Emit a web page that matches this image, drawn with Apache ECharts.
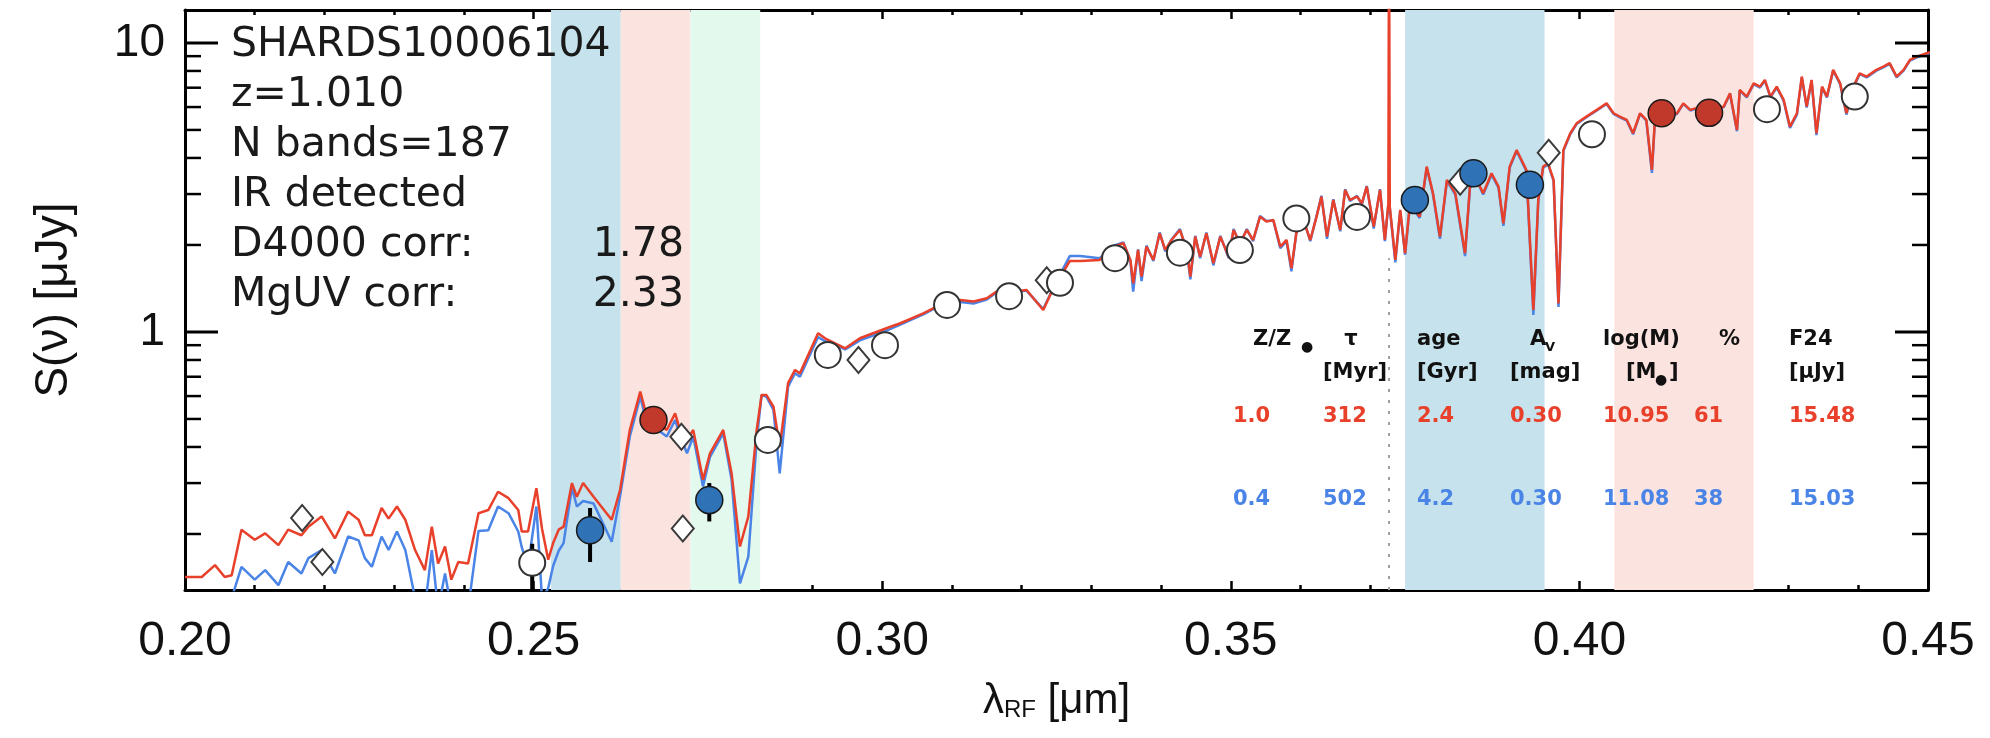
<!DOCTYPE html>
<html lang="en">
<head>
<meta charset="UTF-8">
<title>SHARDS10006104 SED</title>
<script src="https://cdn.jsdelivr.net/npm/echarts@6/dist/echarts.min.js"></script>
<style>
    html, body { margin: 0; padding: 0; background: #fff; }
    #main { width: 1990px; height: 738px; }
</style>
</head>
<body>
<div id="main"></div>
<script>
    // rest-frame wavelength grid [micron], shared by the two model spectra
    var wave = [
        0.2000,0.2024,0.2043,0.2057,0.2067,0.2081,0.2100,0.2115,0.2134,0.2148,
        0.2167,0.2177,0.2196,0.2215,0.2234,0.2249,0.2258,0.2268,0.2282,0.2292,
        0.2304,0.2316,0.2330,0.2344,0.2354,0.2363,0.2373,0.2382,0.2392,0.2406,
        0.2421,0.2435,0.2449,0.2464,0.2478,0.2483,0.2492,0.2504,0.2512,
        0.2521,0.2528,0.2536,0.2543,0.2555,0.2562,0.2571,0.2586,0.2612,0.2624,
        0.2638,0.2653,0.2660,0.2672,0.2691,0.2703,0.2710,0.2720,0.2729,0.2743,
        0.2753,0.2772,0.2784,0.2796,0.2808,0.2820,0.2827,0.2834,0.2844,0.2853,
        0.2865,0.2875,0.2882,
        0.2908,0.2918,0.2947,0.2968,0.3006,0.3026,0.3059,0.3078,0.3112,0.3131,
        0.3150,0.3164,0.3188,0.3207,0.3231,0.3241,0.3250,0.3269,0.3284,0.3312,
        0.3332,0.3346,0.3356,0.3360,0.3367,0.3372,0.3379,0.3389,0.3398,0.3406,
        0.3415,0.3427,0.3437,0.3442,0.3449,0.3456,0.3465,0.3475,0.3485,0.3497,
        0.3504,0.3513,0.3523,0.3532,0.3542,0.3551,0.3561,0.3571,0.3580,0.3587,
        0.3594,0.3604,0.3614,0.3623,0.3630,0.3638,0.3647,0.3657,0.3664,0.3671,
        0.3681,0.3688,0.3695,0.3705,0.3714,
        0.3721,0.3726,0.3727,0.3728,0.3736,0.3743,0.3750,0.3757,0.3771,0.3781,
        0.3790,0.3800,0.3810,0.3822,0.3836,0.3843,0.3853,0.3862,0.3874,0.3884,
        0.3891,0.3900,0.3910,0.3917,0.3924,0.3934,0.3941,0.3948,0.3955,0.3963,
        0.3970,0.3977,0.3987,0.3996,0.4010,0.4025,0.4039,0.4049,0.4058,0.4068,
        0.4077,0.4087,0.4096,0.4104,
        0.4108,0.4120,0.4140,0.4149,0.4159,0.4166,0.4178,0.4190,0.4207,0.4216,
        0.4226,0.4230,0.4240,0.4250,0.4259,0.4266,0.4274,0.4283,0.4293,0.4302,
        0.4312,0.4319,0.4326,0.4333,0.4340,0.4348,0.4355,0.4364,0.4374,0.4383,
        0.4393,0.4402,0.4412,0.4426,0.4436,0.4445,0.4455,0.4465,0.4474,0.4484,
        0.4498,0.4510
    ];

    // model 1 (Z/Zsun=1.0) flux [uJy]
    var fluxRed = [
        0.142,0.142,0.156,0.142,0.144,0.207,0.191,0.201,0.183,0.207,
        0.198,0.212,0.230,0.193,0.239,0.224,0.198,0.198,0.246,0.226,
        0.249,0.224,0.176,0.150,0.212,0.158,0.181,0.139,0.160,0.158,
        0.236,0.242,0.280,0.266,0.242,0.204,0.204,0.288,0.209,
        0.163,0.186,0.207,0.212,0.300,0.269,0.300,0.269,0.224,0.284,
        0.458,0.622,0.537,0.503,0.458,0.523,0.458,0.423,0.458,0.308,
        0.380,0.458,0.324,0.181,0.230,0.458,0.605,0.605,0.552,0.401,
        0.665,0.739,0.719,
        0.989,0.951,0.878,0.951,1.030,1.072,1.160,1.224,1.290,1.274,
        1.308,1.379,1.379,1.397,1.191,1.343,1.474,1.760,1.760,1.775,
        1.973,2.027,1.775,1.474,1.922,1.554,1.973,1.775,2.195,1.922,
        2.081,2.254,1.922,1.554,2.137,1.822,2.195,1.728,2.137,1.822,
        2.254,2.027,2.254,2.081,2.506,2.409,2.441,1.973,2.081,1.661,
        2.195,2.441,2.081,2.506,2.940,2.137,2.862,2.254,3.100,2.862,
        2.940,2.787,3.184,2.315,3.100,
        2.081,2.787,30.0,2.715,1.775,2.643,1.872,2.787,2.506,3.733,
        3.018,2.137,3.357,3.018,1.872,3.184,3.357,3.018,3.540,3.184,
        2.377,3.733,4.264,3.937,3.636,1.191,2.862,3.733,3.834,3.357,
        1.256,4.264,4.870,5.270,5.560,5.865,6.180,5.710,5.560,5.414,
        4.870,5.710,5.414,3.636,
        5.270,5.560,5.710,6.180,5.865,5.940,5.800,6.000,6.020,6.700,
        5.000,6.880,6.520,7.250,7.060,7.450,6.520,7.060,6.350,5.135,
        5.710,7.650,6.020,7.450,4.870,7.060,6.520,8.070,7.250,5.710,
        7.060,7.850,7.650,8.070,8.280,8.510,7.650,8.070,8.730,8.970,
        9.210,9.400
    ];

    // model 2 (Z/Zsun=0.4) flux [uJy]
    var fluxBlue = [
        0.110,0.110,0.110,0.110,0.120,0.154,0.139,0.150,0.133,0.160,
        0.146,0.165,0.176,0.146,0.196,0.190,0.165,0.154,0.196,0.176,
        0.204,0.176,0.120,0.110,0.176,0.110,0.146,0.110,0.110,0.110,
        0.205,0.206,0.249,0.236,0.204,0.180,0.154,0.249,0.120,
        0.130,0.155,0.175,0.186,0.290,0.249,0.260,0.255,0.188,0.270,
        0.435,0.597,0.509,0.470,0.435,0.496,0.440,0.380,0.435,0.292,
        0.370,0.446,0.308,0.135,0.167,0.423,0.605,0.597,0.537,0.324,
        0.647,0.720,0.700,
        0.960,0.930,0.870,0.935,1.010,1.060,1.150,1.215,1.270,1.255,
        1.295,1.370,1.370,1.390,1.200,1.350,1.500,1.830,1.830,1.800,
        1.990,2.040,1.760,1.379,1.930,1.500,1.990,1.760,2.210,1.900,
        2.090,2.270,1.900,1.520,2.150,1.800,2.210,1.700,2.150,1.800,
        2.270,2.010,2.270,2.060,2.520,2.420,2.430,1.950,2.060,1.620,
        2.210,2.460,2.060,2.520,2.960,2.100,2.880,2.230,3.120,2.840,
        2.960,2.760,3.200,2.280,3.120,
        2.060,2.760,2.750,2.690,1.740,2.620,1.850,2.760,2.480,3.700,
        2.990,2.100,3.330,2.990,1.830,3.150,3.330,2.990,3.500,3.150,
        2.330,3.700,4.230,3.900,3.600,1.145,2.830,3.700,3.800,3.330,
        1.220,4.230,4.840,5.240,5.530,5.840,6.150,5.680,5.530,5.380,
        4.830,5.680,5.380,3.550,
        5.240,5.530,5.680,6.150,5.840,5.910,5.780,5.970,5.990,6.660,
        4.950,6.840,6.480,7.200,7.010,7.400,6.480,7.010,6.300,5.080,
        5.650,7.600,5.980,7.400,4.800,7.010,6.480,8.020,7.200,5.650,
        7.010,7.800,7.600,8.020,8.230,8.460,7.600,8.020,8.680,8.920,
        9.160,9.350
    ];

    // photometry: open circles
    var openWave = [0.2498,0.2836,0.2922,0.3004,0.3093,0.3182,0.3255,0.3334,0.3427,0.3513,0.3594,0.3681,0.4018,0.4269,0.4395];
    var openFlux = [0.159,0.423,0.833,0.900,1.240,1.330,1.480,1.800,1.880,1.920,2.470,2.500,4.830,5.900,6.520];
    // photometry: open diamonds
    var diamWave = [0.2168,0.2197,0.2712,0.2714,0.2966,0.3236,0.3829,0.3956];
    var diamFlux = [0.227,0.160,0.434,0.209,0.800,1.510,3.310,4.170];
    // photometry inside the index bands
    var blueDotWave = [0.2581,0.2752,0.3764,0.3848,0.3929];
    var blueDotFlux = [0.206,0.262,2.860,3.540,3.230];
    var redDotWave = [0.2672,0.4118,0.4186];
    var redDotFlux = [0.496,5.710,5.730];
    // error bars
    var errWave = [0.2498,0.2581,0.2752];
    var errLow = [0.120,0.160,0.221];
    var errHigh = [0.185,0.246,0.300];

    // index bands (MgUV and D4000)
    var bandStart = [0.2525,0.2625,0.2725,0.375,0.405];
    var bandEnd = [0.2625,0.2725,0.2825,0.395,0.425];
    var bandKind = ['blue','red','green','blue','red'];

    // [OII] 3727 marker
    var oiiWave = 0.3727;
    var oiiTop = 1.8;

    // axis ticks
    var yMajor = [1, 10];
    var yMinor = [0.2,0.3,0.4,0.5,0.6,0.7,0.8,0.9,2,3,4,5,6,7,8,9];

    // info block
    var infoLines = ['SHARDS10006104', 'z=1.010', 'N bands=187', 'IR detected', 'D4000 corr:', 'MgUV corr:'];
    var infoValues = ['', '', '', '', '1.78', '2.33'];

    // fit table
    var fitRed = ['1.0','312','2.4','0.30','10.95','61','15.48'];
    var fitBlue = ['0.4','502','4.2','0.30','11.08','38','15.03'];

    var bandColors = {blue: '#c6e2ec', red: '#fbe4df', green: '#e3f9ed'};
    var RED = '#e8402a', BLUE = '#4a84e6';

    function pairs(xs, ys) {
        var out = [];
        for (var i = 0; i < xs.length; i++) out.push([xs[i], ys[i]]);
        return out;
    }

    var bandAreas = [];
    for (var i = 0; i < bandStart.length; i++) {
        bandAreas.push([
            {xAxis: bandStart[i], itemStyle: {color: bandColors[bandKind[i]]}},
            {xAxis: bandEnd[i]}
        ]);
    }

    var tickData = [];
    yMajor.forEach(function (v) { tickData.push([0.3, v, 33, 3]); });
    yMinor.forEach(function (v) { tickData.push([0.3, v, 16, 2.5]); });

    var errData = [];
    for (var i = 0; i < errWave.length; i++) errData.push([errWave[i], errLow[i], errHigh[i]]);

    var FONT = '"Liberation Sans", Arial, sans-serif';
    var INFO = '"DejaVu Sans", sans-serif';

    function txt(x, y, s, font, color, align) {
        return {
            type: 'text', x: x, y: y, silent: true, z: 100,
            style: {
                text: s, font: font, fill: color,
                align: align || 'left', textAlign: align || 'left',
                verticalAlign: 'middle', textVerticalAlign: 'middle'
            }
        };
    }

    var graphics = [];
    // info block, top left
    for (var i = 0; i < infoLines.length; i++) {
        graphics.push(txt(231, 45 + i * 50, infoLines[i], '41px ' + INFO, '#1a1a1a'));
        if (infoValues[i]) graphics.push(txt(684, 45 + i * 50, infoValues[i], '41px ' + INFO, '#1a1a1a', 'right'));
    }

    // fit table
    var TB = 'bold 21px ' + INFO, TS = 'bold 13px ' + INFO, TD = '14px ' + INFO;
    var colX = [1233, 1323, 1417, 1510, 1603, 1694, 1789];
    graphics.push(txt(1253, 340, 'Z/Z', TB, '#111'));
    graphics.push(txt(1301, 347, '●', TD, '#111'));
    graphics.push(txt(1351, 340, 'τ', TB, '#111', 'center'));
    graphics.push(txt(1417, 340, 'age', TB, '#111'));
    graphics.push(txt(1530, 340, 'A', TB, '#111'));
    graphics.push(txt(1545, 348, 'V', TS, '#111'));
    graphics.push(txt(1603, 340, 'log(M)', TB, '#111'));
    graphics.push(txt(1719, 340, '%', TB, '#111'));
    graphics.push(txt(1789, 340, 'F24', TB, '#111'));
    graphics.push(txt(1323, 373, '[Myr]', TB, '#111'));
    graphics.push(txt(1417, 373, '[Gyr]', TB, '#111'));
    graphics.push(txt(1510, 373, '[mag]', TB, '#111'));
    graphics.push(txt(1626, 373, '[M', TB, '#111'));
    graphics.push(txt(1655, 380, '●', TD, '#111'));
    graphics.push(txt(1669, 373, ']', TB, '#111'));
    graphics.push(txt(1789, 373, '[μJy]', TB, '#111'));
    for (var i = 0; i < colX.length; i++) {
        graphics.push(txt(colX[i], 417, fitRed[i], TB, RED));
        graphics.push(txt(colX[i], 500, fitBlue[i], TB, BLUE));
    }

    var myChart = echarts.init(document.getElementById('main'));

    var xCommon = {
        type: 'value', min: 0.2, max: 0.45, interval: 0.05,
        splitLine: {show: false},
        axisLine: {show: true, onZero: false, lineStyle: {color: '#000', width: 3}},
        axisTick: {show: true, inside: true, length: 9, lineStyle: {color: '#000', width: 2.5}},
        minorTick: {show: true, splitNumber: 5, length: 5, lineStyle: {color: '#000', width: 2.5}},
        minorSplitLine: {show: false}
    };
    var yCommon = {
        type: 'log', logBase: 10, min: 0.128, max: 13,
        splitLine: {show: false},
        axisLine: {show: true, lineStyle: {color: '#000', width: 3}},
        axisTick: {show: false}
    };

    var option = {
        animation: false,
        backgroundColor: '#fff',
        grid: {left: 185, right: 62, top: 10, bottom: 148},
        xAxis: [
            echarts.util.merge({
                position: 'bottom',
                name: '{a|λ}{s|RF}{a| [μm]}',
                nameLocation: 'middle',
                nameGap: 72,
                nameTextStyle: {
                    color: '#111', fontFamily: FONT,
                    rich: {
                        a: {fontSize: 42, fontFamily: FONT, color: '#111', lineHeight: 60, verticalAlign: 'bottom'},
                        s: {fontSize: 24, fontFamily: FONT, color: '#111', lineHeight: 24, verticalAlign: 'bottom'}
                    }
                },
                axisLabel: {
                    show: true, margin: 28, fontSize: 48, fontFamily: FONT, color: '#111',
                    showMinLabel: true, showMaxLabel: true,
                    formatter: function (v) { return v.toFixed(2); }
                }
            }, xCommon, true),
            echarts.util.merge({position: 'top', axisLabel: {show: false}}, xCommon, true)
        ],
        yAxis: [
            echarts.util.merge({
                position: 'left',
                name: 'S(ν) [μJy]',
                nameLocation: 'middle',
                nameGap: 108,
                nameRotate: 90,
                nameTextStyle: {fontSize: 46, fontFamily: FONT, color: '#111'},
                axisLabel: {
                    show: true, margin: 20, fontSize: 46, fontFamily: FONT, color: '#111',
                    showMinLabel: false, showMaxLabel: false,
                    formatter: function (v) {
                        if (Math.abs(v - 1) < 1e-6) return '1';
                        if (Math.abs(v - 10) < 1e-5) return '10';
                        return '';
                    }
                }
            }, yCommon, true),
            echarts.util.merge({position: 'right', axisLabel: {show: false}}, yCommon, true)
        ],
        graphic: graphics,
        series: [
            {
                name: 'bands', type: 'line', data: [], silent: true, z: 1,
                markArea: {silent: true, data: bandAreas, itemStyle: {opacity: 1}},
                markLine: {
                    silent: true, symbol: 'none', label: {show: false},
                    lineStyle: {color: '#a0a0a0', type: [3, 8], width: 2},
                    data: [[{coord: [oiiWave, 0.128]}, {coord: [oiiWave, oiiTop]}]]
                }
            },
            {
                name: 'model Z=0.4', type: 'line', data: pairs(wave, fluxBlue), showSymbol: false,
                clip: true, z: 2, lineStyle: {color: BLUE, width: 2.5}, itemStyle: {color: BLUE}
            },
            {
                name: 'model Z=1.0', type: 'line', data: pairs(wave, fluxRed), showSymbol: false,
                clip: true, z: 3, lineStyle: {color: RED, width: 2.5}, itemStyle: {color: RED}
            },
            {
                name: 'errors', type: 'custom', z: 4, data: errData, silent: true,
                encode: {x: 0, y: [1, 2]},
                renderItem: function (params, api) {
                    var lo = api.coord([api.value(0), api.value(1)]);
                    var hi = api.coord([api.value(0), api.value(2)]);
                    var cs = params.coordSys;
                    var yb = Math.min(lo[1], cs.y + cs.height);
                    return {
                        type: 'line', shape: {x1: lo[0], y1: yb, x2: hi[0], y2: hi[1]},
                        style: {stroke: '#000', lineWidth: 4}
                    };
                }
            },
            {
                name: 'diamonds', type: 'scatter', z: 5, data: pairs(diamWave, diamFlux),
                symbol: 'diamond', symbolSize: [22, 26],
                itemStyle: {color: '#fff', borderColor: '#3a3a3a', borderWidth: 2, opacity: 1}
            },
            {
                name: 'open', type: 'scatter', z: 5, data: pairs(openWave, openFlux),
                symbol: 'circle', symbolSize: 26,
                itemStyle: {color: '#fff', borderColor: '#333', borderWidth: 2, opacity: 1}
            },
            {
                name: 'band blue', type: 'scatter', z: 6, data: pairs(blueDotWave, blueDotFlux),
                symbol: 'circle', symbolSize: 27,
                itemStyle: {color: '#2f72b6', borderColor: '#1a1a1a', borderWidth: 1.5, opacity: 1}
            },
            {
                name: 'band red', type: 'scatter', z: 6, data: pairs(redDotWave, redDotFlux),
                symbol: 'circle', symbolSize: 27,
                itemStyle: {color: '#c0392b', borderColor: '#1a1a1a', borderWidth: 1.5, opacity: 1}
            },
            {
                name: 'yticks', type: 'custom', z: 10, data: tickData, silent: true,
                encode: {x: 0, y: 1},
                renderItem: function (params, api) {
                    var cs = params.coordSys;
                    var y = api.coord([api.value(0), api.value(1)])[1];
                    var len = api.value(2), w = api.value(3);
                    return {
                        type: 'group', children: [
                            {type: 'line', shape: {x1: cs.x, y1: y, x2: cs.x + len, y2: y}, style: {stroke: '#000', lineWidth: w}},
                            {type: 'line', shape: {x1: cs.x + cs.width, y1: y, x2: cs.x + cs.width - len, y2: y}, style: {stroke: '#000', lineWidth: w}}
                        ]
                    };
                }
            }
        ]
    };

    myChart.setOption(option);
</script>
</body>
</html>
